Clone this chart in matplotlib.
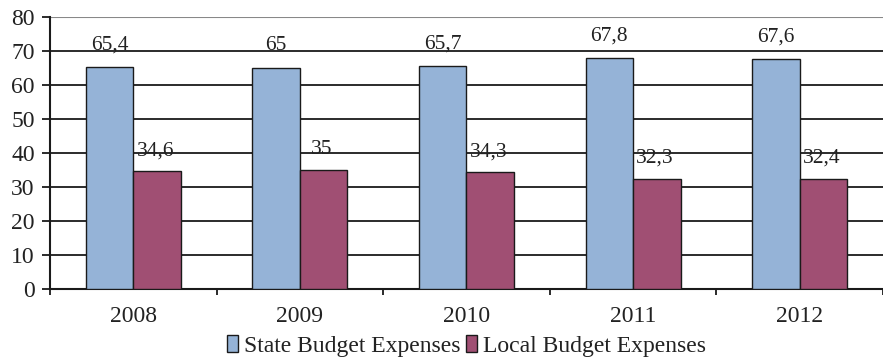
import matplotlib
matplotlib.use("Agg")
import matplotlib.pyplot as plt
import numpy as np

years = ["2008", "2009", "2010", "2011", "2012"]
state = [65.4, 65.0, 65.7, 67.8, 67.6]
local = [34.6, 35.0, 34.3, 32.3, 32.4]
state_labels = ["65,4", "65", "65,7", "67,8", "67,6"]
local_labels = ["34,6", "35", "34,3", "32,3", "32,4"]

plt.rcParams["font.family"] = ["Liberation Serif", "DejaVu Serif"]

fig = plt.figure(figsize=(8.83, 3.58), dpi=100)
ax = fig.add_axes([0.0566, 0.193, 0.9434, 0.7595])

x = np.arange(len(years))
w = 0.285
b1 = ax.bar(x - w / 2, state, w, color="#95B3D7", edgecolor="#1a1a1a", lw=1.0,
            label="State Budget Expenses", zorder=3)
b2 = ax.bar(x + w / 2, local, w, color="#A04F73", edgecolor="#1a1a1a", lw=1.0,
            label="Local Budget Expenses", zorder=3)

for rect, lab in zip(b1, state_labels):
    ax.annotate(lab, (rect.get_x() + rect.get_width() / 2, rect.get_height()),
                xytext=(0, 9), textcoords="offset points", ha="center", va="bottom",
                fontsize=15.5, color="#222222")
for rect, lab in zip(b2, local_labels):
    ax.annotate(lab, (rect.get_x() + rect.get_width() / 2 - 0.01, rect.get_height()),
                xytext=(0, 8), textcoords="offset points", ha="center", va="bottom",
                fontsize=15.5, color="#222222")

ax.set_xlim(-0.5, len(years) - 0.5)
ax.set_ylim(0, 80)
ax.set_yticks(range(0, 81, 10))
for y in range(10, 80, 10):
    ax.axhline(y, color="#1a1a1a", lw=1.3, zorder=1)
ax.axhline(80, color="#888888", lw=1.5, zorder=1)

ax.set_xticks(np.arange(-0.5, len(years), 1.0))
ax.set_xticklabels([])
ax.set_xticks(x, minor=True)
ax.set_xticklabels(years, minor=True)
ax.tick_params(axis="x", which="major", direction="out", length=4, width=1.3, color="#1a1a1a")
ax.tick_params(axis="x", which="minor", length=0, pad=12, labelsize=17, labelcolor="#222222")
ax.tick_params(axis="y", direction="out", length=6, width=1.3, color="#1a1a1a",
               labelsize=17, pad=5, labelcolor="#222222")

for s in ["top", "right"]:
    ax.spines[s].set_visible(False)
for s in ["left", "bottom"]:
    ax.spines[s].set_color("#1a1a1a")
    ax.spines[s].set_linewidth(1.5)

leg = ax.legend(loc="center", bbox_to_anchor=(0.5, -0.21), ncol=2, frameon=False,
                fontsize=17, handlelength=0.5, handleheight=0.75, handletextpad=0.25,
                columnspacing=0.2, borderpad=0, labelcolor="#222222")

fig.savefig("out.png", dpi=100)
